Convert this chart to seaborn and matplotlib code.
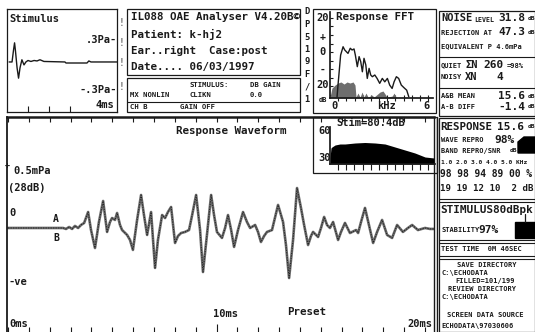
import matplotlib
matplotlib.use("Agg")
import numpy as np
import pandas as pd
import seaborn as sns
import matplotlib.pyplot as plt
from matplotlib.patches import Rectangle, Polygon
from matplotlib.lines import Line2D

# Response waveform (ms, mPa)
wave_time = [0.00, 2.64, 2.78, 2.93, 3.07, 3.21, 3.36, 3.50, 3.65, 3.84,
             3.98, 4.17, 4.36, 4.56, 4.75, 4.89, 4.99, 5.13, 5.23, 5.37,
             5.47, 5.71, 5.85, 5.99, 6.19, 6.38, 6.52, 6.67, 6.86, 7.05,
             7.19, 7.39, 7.53, 7.67, 7.82, 8.01, 8.15, 8.30, 8.49, 8.68,
             8.83, 9.02, 9.21, 9.35, 9.54, 9.74, 9.88, 10.02, 10.26, 10.41,
             10.55, 10.70, 10.84, 11.03, 11.27, 11.46, 11.61, 11.85, 11.99, 12.13,
             12.28, 12.42, 12.66, 12.95, 13.19, 13.33, 13.48, 13.67, 13.86, 14.05,
             14.20, 14.39, 14.53, 14.63, 14.87, 15.01, 15.16, 15.30, 15.44, 15.59,
             15.83, 15.97, 16.16, 16.40, 16.69, 16.79, 16.93, 17.12, 17.31, 17.51,
             17.70, 17.94, 18.18, 18.42, 18.66, 18.94, 19.18, 19.38, 19.66, 20.00,
             20.24, 20.48]
wave_amp = [0.000, 0.000, -0.008, 0.008, -0.008, 0.017, 0.000, 0.025, 0.042, 0.133,
            -0.017, -0.167, 0.050, 0.225, -0.033, 0.050, 0.083, 0.067, 0.125, 0.025,
            -0.017, -0.058, -0.100, -0.183, 0.067, 0.275, 0.108, -0.058, 0.133, -0.333,
            -0.100, 0.108, 0.083, 0.133, 0.175, -0.125, -0.067, -0.042, -0.033, -0.017,
            0.108, 0.275, -0.017, -0.367, -0.058, 0.275, 0.108, -0.033, -0.083, 0.000,
            0.108, -0.017, -0.158, -0.017, 0.133, 0.050, 0.000, 0.025, -0.033, -0.117,
            -0.067, -0.033, -0.017, 0.192, 0.050, -0.142, -0.417, -0.100, 0.333, 0.167,
            0.025, -0.142, -0.067, -0.033, -0.075, 0.000, 0.092, 0.025, 0.000, 0.050,
            -0.100, -0.033, 0.042, -0.042, -0.017, -0.042, 0.050, 0.167, 0.025, -0.125,
            -0.033, 0.067, -0.058, -0.083, 0.025, -0.033, 0.000, 0.025, -0.017, 0.000,
            -0.008, -0.008]

# Stimulus waveform (ms, Pa)
stim_time = [0.10, 0.24, 0.31, 0.36, 0.40, 0.48, 0.55, 0.62, 0.71, 0.81, 0.90,
             1.00, 1.14, 1.29, 1.43, 1.57, 1.76, 2.76, 2.81, 3.81, 3.90, 4.00, 5.24]
stim_amp = [0.00, 0.00, 0.16, 0.26, 0.16, -0.08, -0.22, -0.08, 0.03, -0.04, 0.00,
            0.02, 0.007, 0.02, 0.014, 0.03, 0.007, 0.00, -0.014, -0.014, 0.014, 0.00, 0.00]

# Response FFT (kHz, dB)
resp_freq = [0.43, 0.49, 0.65, 0.80, 0.90, 1.00, 1.10, 1.24, 1.35, 1.47, 1.55,
             1.67, 1.78, 1.88, 1.98, 2.08, 2.19, 2.28, 2.39, 2.49, 2.59, 2.74,
             2.88, 3.04, 3.20, 3.35, 3.51, 3.65, 3.80, 3.92, 4.06, 4.20, 4.36,
             4.53, 4.69, 4.82]
resp_db = [-26.5, -19.4, -1.8, 3.1, 1.2, 0.2, -0.8, 2.2, 1.2, 1.8, -1.8,
           -8.6, -2.7, -5.7, -11.6, -3.7, -7.6, -15.5, -9.6, -13.5, -14.5, -13.5,
           -15.5, -18.4, -15.5, -17.5, -15.5, -19.4, -21.4, -17.5, -14.5, -15.5, -19.4,
           -21.0, -22.4, -26.3]
noise_freq = [0.00, 0.12, 0.31, 0.49, 0.67, 0.86, 1.04, 1.22, 1.41, 1.53, 1.59,
              1.71, 1.84, 1.96, 2.08, 2.20, 2.33, 2.57, 2.69, 3.06, 3.24, 3.37,
              3.49, 3.80, 3.92, 4.04]
noise_db = [-26.5, -21.2, -19.4, -18.2, -17.6, -18.8, -17.6, -18.2, -17.6, -19.4, -26.5,
            -24.1, -26.5, -23.5, -26.5, -24.1, -26.5, -25.3, -26.5, -23.5, -22.9, -24.7,
            -26.5, -25.9, -24.1, -26.5]

# Stimulus FFT (kHz, dB)
stimfft_freq = [0.00, 0.06, 0.12, 0.31, 0.61, 0.92, 1.53, 2.14, 2.76, 3.37,
                3.98, 4.59, 5.20, 5.82, 6.37]
stimfft_db = [33, 43, 44, 46, 47, 47, 48, 48.5, 48, 47, 44, 41, 38, 34, 33]

# ---------------- setup ----------------
sns.set_theme(style="white")
plt.rcParams["font.family"] = ["DejaVu Sans Mono", "DejaVu Sans"]
plt.rcParams["font.weight"] = "bold"

W, H = 535, 332
INK = "#1a1a1a"
fig = plt.figure(figsize=(W / 100, H / 100), dpi=100)
fig.patch.set_facecolor("white")


def ax_px(x0, y0, x1, y1):
    a = fig.add_axes([x0 / W, 1 - y1 / H, (x1 - x0) / W, (y1 - y0) / H])
    a.set_facecolor("none")
    return a


def T(x, y, s, size=7.5, ha="left", va="center", color=INK, **kw):
    fig.text(x / W, 1 - y / H, s, fontsize=size, ha=ha, va=va, color=color,
             fontweight="bold", **kw)


def box(x0, y0, x1, y1, lw=1.0):
    fig.add_artist(Rectangle((x0 / W, 1 - y1 / H), (x1 - x0) / W, (y1 - y0) / H,
                             transform=fig.transFigure, fill=False, lw=lw, ec=INK))


def hline(y, x0, x1, lw=1.0):
    fig.add_artist(Line2D([x0 / W, x1 / W], [1 - y / H, 1 - y / H],
                          transform=fig.transFigure, lw=lw, color=INK))


def vline(x, y0, y1, lw=1.0):
    fig.add_artist(Line2D([x / W, x / W], [1 - y0 / H, 1 - y1 / H],
                          transform=fig.transFigure, lw=lw, color=INK))


def clean(a):
    a.set_xlabel("")
    a.set_ylabel("")
    for s in a.spines.values():
        s.set_color(INK)


# ---------------- stimulus panel ----------------
ax_s = ax_px(7, 9, 117, 112)
sns.lineplot(x=stim_time, y=stim_amp, ax=ax_s, color=INK, lw=1.0)
ax_s.set_xlim(0, 5.24)
ax_s.set_ylim(-0.68, 0.72)
ax_s.set_xticks([1, 2, 3])
ax_s.set_yticks([])
ax_s.tick_params(axis="x", direction="in", length=4, width=0.8, labelbottom=False,
                 color=INK, bottom=True)
clean(ax_s)
for s in ax_s.spines.values():
    s.set_linewidth(0.9)
T(9, 19, "Stimulus", 7.5)
T(117, 40, ".3Pa-", 7.5, ha="right")
T(117, 90, "-.3Pa-", 7.5, ha="right")
T(114, 105, "4ms", 7.5, ha="right")
for yy in [23, 43, 63, 87]:
    T(122, yy, "!", 7, ha="center", color="#777")

# ---------------- info panel ----------------
box(127, 9, 300, 75, 0.9)
T(131, 17, "IL088 OAE Analyser V4.20B\u00a9", 7.8)
T(131, 34, "Patient: k-hj2", 7.8)
T(131, 51, "Ear..right  Case:post", 7.8)
T(131, 67, "Date.... 06/03/1997", 7.8)
box(127, 78, 300, 112, 0.9)
hline(102, 127, 300, 0.8)
T(190, 85, "STIMULUS:", 5.2)
T(250, 85, "DB GAIN", 5.2)
T(130, 95, "MX NONLIN", 5.2)
T(190, 95, "CLIKN", 5.2)
T(250, 95, "0.0", 5.2)
T(130, 107, "CH B", 5.2)
T(180, 107, "GAIN OFF", 5.2)
for i, ch in enumerate("DP519F/1"):
    T(307, 12 + 12.5 * i, ch, 6.3, ha="center")

# ---------------- response FFT ----------------
box(313, 9, 436, 113, 0.9)
ax_f = ax_px(330, 12, 433, 98)
ax_f.fill_between(noise_freq, noise_db, -27, color="#6e6e6e", lw=0)
sns.lineplot(x=resp_freq, y=resp_db, ax=ax_f, color=INK, lw=1.0)
ax_f.set_xlim(0, 6.3)
ax_f.set_ylim(-27, 23.5)
ax_f.set_xticks(np.arange(0.5, 6.3, 0.5))
ax_f.set_yticks(np.arange(-25, 25, 5))
ax_f.tick_params(axis="x", direction="inout", length=5, width=0.8, labelbottom=False,
                 bottom=True, color=INK)
ax_f.tick_params(axis="y", direction="in", length=2, width=0.8, labelleft=False,
                 left=True, color=INK)
ax_f.spines["top"].set_visible(False)
ax_f.spines["right"].set_visible(False)
clean(ax_f)
T(336, 17, "Response FFT", 7.8)
T(323, 18, "20", 7.5, ha="center")
T(323, 37, "+", 7, ha="center")
T(323, 52, "0", 7.5, ha="center")
T(323, 70, "-", 7, ha="center")
T(323, 85, "20", 7.5, ha="center")
T(323, 100, "dB", 5, ha="center")
T(334, 106, "0", 7.5, ha="center")
T(386, 106, "kHz", 7.5, ha="center")
T(426, 106, "6", 7.5, ha="center")

# ---------------- right column, top ----------------
box(439, 11, 535, 116, 0.9)
hline(57, 439, 535, 0.8)
hline(88, 439, 535, 0.8)
T(441, 18, "NOISE", 7.5)
T(474, 20, "LEVEL", 4.8)
T(498, 18, "31.8", 8)
T(528, 18, "dB", 4.5)
T(441, 33, "REJECTION AT", 5.0)
T(498, 32, "47.3", 8)
T(528, 32, "dB", 4.5)
T(441, 46, "EQUIVALENT P 4.6mPa", 5.0)
T(441, 65, "QUIET", 5.0)
T(465, 65, "\u03a3N", 7.5)
T(483, 65, "260", 8)
T(507, 66, "=98%", 5.0)
T(441, 77, "NOISY", 5.0)
T(465, 77, "XN", 7.5)
T(496, 77, "4", 8)
T(441, 96, "A&B MEAN", 5.0)
T(498, 96, "15.6", 8)
T(528, 96, "dB", 4.5)
T(441, 107, "A-B DIFF", 5.0)
T(498, 107, "-1.4", 8)
T(528, 107, "dB", 4.5)

# ---------------- main response waveform ----------------
ax_w = ax_px(7, 117, 434, 332)
sns.lineplot(x=wave_time, y=wave_amp, ax=ax_w, color="#6a6a6a", lw=1.9)
sns.lineplot(x=wave_time, y=wave_amp, ax=ax_w, color=INK, lw=0.6,
             linestyle=(0, (1.5, 1.5)))
ax_w.set_xlim(-0.05, 20.43)
ax_w.set_ylim(-0.867, 0.925)
ax_w.set_yticks([])
ax_w.set_xticks([10])
ax_w.set_xticks(range(0, 21), minor=True)
ax_w.tick_params(axis="x", which="major", direction="in", length=6, width=0.8,
                 bottom=True, top=False, labelbottom=False, color=INK)
ax_w.tick_params(axis="x", which="minor", direction="in", length=3.5, width=0.8,
                 bottom=True, top=False, color=INK)
sec = ax_w.secondary_xaxis("top")
sec.set_xticks(range(0, 21))
sec.tick_params(axis="x", direction="in", length=3.5, width=0.8, labeltop=False,
                color=INK)
sec.spines["top"].set_visible(False)
ax_w.spines["bottom"].set_visible(False)
ax_w.spines["left"].set_linewidth(1.3)
ax_w.spines["top"].set_linewidth(1.8)
ax_w.spines["right"].set_linewidth(1.0)
clean(ax_w)
T(176, 131, "Response Waveform", 7.8)
T(7, 165, "+", 6, ha="center")
T(13, 171, "0.5mPa", 7.5)
T(8, 188, "(28dB)", 7.5)
T(9, 213, "0", 7.5)
T(56, 219, "A", 7, ha="center")
T(56, 238, "B", 7, ha="center")
T(8, 282, "-ve", 7.5)
T(9, 324, "0ms", 7.5)
T(226, 314, "10ms", 7.5, ha="center")
T(287, 312, "Preset", 7.8)
T(432, 324, "20ms", 7.5, ha="right")

# ---------------- stimulus FFT inset ----------------
ax_i = ax_px(330, 127, 435, 164)
ax_i.fill_between(stimfft_freq, stimfft_db, 27, color="black", lw=0)
ax_i.set_xlim(0, 6.43)
ax_i.set_ylim(27, 64)
ax_i.set_xticks(np.arange(0.5, 6.4, 0.5))
ax_i.set_yticks([])
ax_i.tick_params(axis="x", direction="out", length=4, width=0.8, labelbottom=False,
                 bottom=True, color=INK)
ax_i.spines["top"].set_visible(False)
ax_i.spines["right"].set_visible(False)
clean(ax_i)
fig.add_artist(Rectangle((313 / W, 1 - 173 / H), 124 / W, 56 / H,
                         transform=fig.transFigure, fill=False, lw=0.9, ec=INK))
T(318, 131, "60", 7.5)
T(318, 158, "30", 7.5)
T(371, 123, "Stim=80.4dB", 7.5, ha="center")

# ---------------- right column, lower ----------------
vline(437, 117, 332, 1.0)
box(439, 118, 535, 332, 0.9)
hline(199, 439, 535, 0.8)
hline(201.5, 439, 535, 0.8)
hline(240, 439, 535, 0.8)
hline(243, 439, 535, 0.8)
hline(256, 439, 535, 0.8)
hline(259, 439, 535, 0.8)
T(440, 127, "RESPONSE", 7.8)
T(497, 127, "15.6", 8)
T(528, 127, "dB", 4.5)
T(441, 140, "WAVE REPRO", 5.0)
T(494, 140, "98%", 8)
fig.add_artist(Polygon([(518 / W, 1 - 153 / H), (518 / W, 1 - 142 / H),
                        (524 / W, 1 - 137 / H), (535 / W, 1 - 137 / H),
                        (535 / W, 1 - 153 / H)], closed=True,
                       transform=fig.transFigure, color="black"))
T(441, 151, "BAND REPRO/SNR", 5.0)
T(510, 151, "dB", 4.5)
T(441, 162, "1.0 2.0 3.0 4.0 5.0 KHz", 4.5)
T(440, 174, "98 98 94 89 00 %", 6.9)
T(440, 188, "19 19 12 10  2 dB", 6.6)
T(440, 210, "STIMULUS80dBpk", 7.9)
T(441, 230, "STABILITY", 5.0)
T(478, 230, "97%", 8)
fig.add_artist(Rectangle((515 / W, 1 - 238 / H), 20 / W, 16 / H,
                         transform=fig.transFigure, color="black"))
vline(525, 214, 222, 0.9)
T(441, 249, "TEST TIME  0M 46SEC", 5.0)
T(487, 265, "SAVE DIRECTORY", 5.0, ha="center")
T(441, 273, "C:\\ECHODATA", 5.0)
T(455, 281, "FILLED=101/199", 5.0)
T(448, 289, "REVIEW DIRECTORY", 5.0)
T(441, 297, "C:\\ECHODATA", 5.0)
T(447, 315, "SCREEN DATA SOURCE", 5.0)
T(441, 326, "ECHODATA\\97030606", 5.0)

fig.savefig("out.png", dpi=100, facecolor="white")
